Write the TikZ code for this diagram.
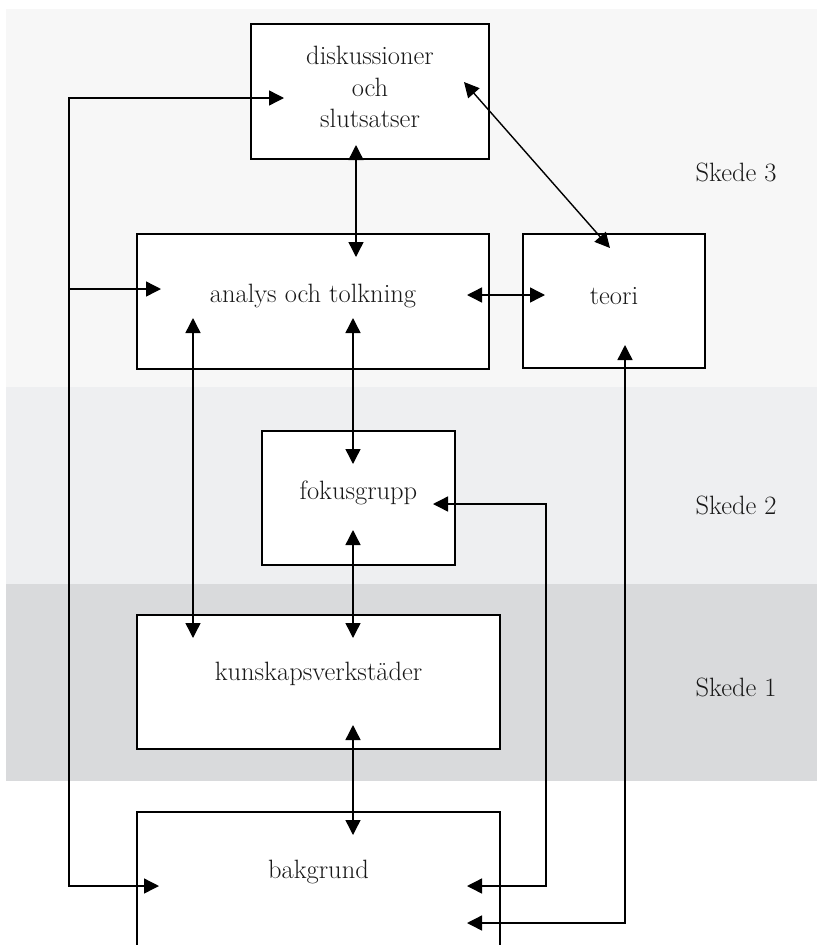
\documentclass[tikz,border=0pt]{standalone}
\usepackage{fontspec}
\usetikzlibrary{arrows.meta,calc}
\definecolor{bandthree}{RGB}{247,247,247}
\definecolor{bandtwo}{RGB}{238,239,241}
\definecolor{bandone}{RGB}{217,218,220}
\begin{document}
\begin{tikzpicture}[x=1pt,y=-1pt,
  every node/.style={font=\fontsize{26.5}{31.5}\selectfont, align=center, text=black!90},
  box/.style={draw=black, line width=1.6pt, fill=white, inner sep=0pt},
  phase/.style={anchor=center},
  arr/.style={line width=1.4pt, -{Triangle[length=15pt,width=15pt]}},
  darr/.style={line width=1.4pt, {Triangle[length=15pt,width=15pt]}-{Triangle[length=15pt,width=15pt]}}]
\useasboundingbox (0,0) rectangle (817,945);

% phase bands
\fill[bandthree] (6,9) rectangle (817,387);
\fill[bandtwo] (6,387) rectangle (817,584);
\fill[bandone] (6,584) rectangle (817,781);

\node[phase] (s3) at (736,172) {Skede 3};
\node[phase] (s2) at (736,505) {Skede 2};
\node[phase] (s1) at (736,687) {Skede 1};

% boxes
\node[box, minimum width=238pt, minimum height=135pt] (disk) at (370,91.5) {};
\node (disktext) at (370,87) {diskussioner\\och\\slutsatser};
\node[box, minimum width=352pt, minimum height=135pt] (ana) at (313,301.5) {};
\node (anatext) at (313,296) {analys och tolkning};
\node[box, minimum width=182pt, minimum height=134pt] (teori) at (614,301) {};
\node (teoritext) at (614,296) {teori};
\node[box, minimum width=193pt, minimum height=134pt] (fokus) at (358.5,498) {};
\node (fokustext) at (358.5,493) {fokusgrupp};
\node[box, minimum width=363pt, minimum height=134pt] (kunsk) at (318.5,682) {};
\node (kunsktext) at (318.5,674) {kunskapsverkstäder};
\node (bak) at (318.5,872) {bakgrund};
\draw[line width=1.6pt] (137,950) |- (500,812) -- (500,950);

% connector end points inside the boxes
\coordinate (diskL) at (284,98);
\coordinate (diskB) at (356,145);
\coordinate (diskR) at (464,82);
\coordinate (anaT) at (356,257);
\coordinate (anaL) at (161,289);
\coordinate (anaR) at (467,295);
\coordinate (anaBL) at (193,318);
\coordinate (anaBM) at (353,318);
\coordinate (teoriT) at (610,248);
\coordinate (teoriL) at (545,295);
\coordinate (teoriB) at (625,345);
\coordinate (fokusT) at (353,464);
\coordinate (fokusR) at (433,504);
\coordinate (fokusB) at (353,530);
\coordinate (kunskTL) at (193,638);
\coordinate (kunskTM) at (353,638);
\coordinate (kunskB) at (353,725);
\coordinate (bakT) at (353,835);
\coordinate (bakL) at (159,886);
\coordinate (bakR) at (467,886);
\coordinate (bakR2) at (467,923);
\coordinate (loopA) at (69,289);
\coordinate (loopB) at (69,886);

% connectors
\draw[arr] (loopB) |- (diskL);
\draw[arr] (loopA) -- (anaL);
\draw[arr] (loopA) |- (bakL);
\draw[darr] (diskB) -- (anaT);
\draw[darr] (diskR) -- (teoriT);
\draw[darr] (anaR) -- (teoriL);
\draw[darr] (anaBL) -- (kunskTL);
\draw[darr] (anaBM) -- (fokusT);
\draw[darr] (fokusB) -- (kunskTM);
\draw[darr] (kunskB) -- (bakT);
\draw[darr] (bakR) -| (546,504) -- (fokusR);
\draw[darr] (bakR2) -| (teoriB);
\end{tikzpicture}
\end{document}
